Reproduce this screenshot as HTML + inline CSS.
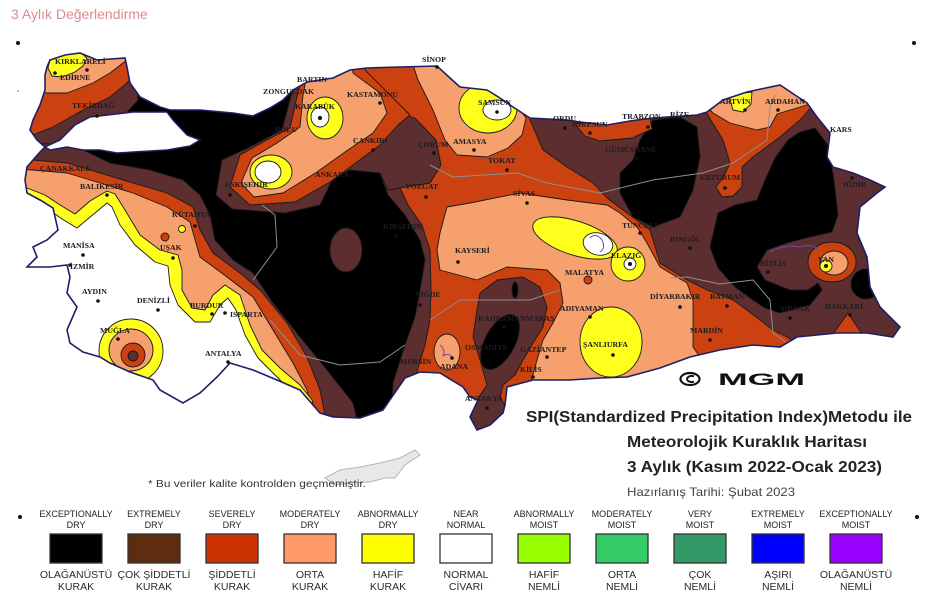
<!DOCTYPE html>
<html><head><meta charset="utf-8">
<style>
html,body{margin:0;padding:0;background:#fff;}
svg{display:block}
.l{font-family:"Liberation Serif",serif;font-weight:bold;font-size:7.8px;fill:#1c1c22;}
.lt{font-family:"Liberation Sans",sans-serif;font-size:9px;fill:#222;text-anchor:middle;}
.lb{font-family:"Liberation Sans",sans-serif;font-size:10.5px;fill:#2a2a2a;text-anchor:middle;}
</style></head>
<body>
<svg width="942" height="602" viewBox="0 0 942 602" xmlns="http://www.w3.org/2000/svg">
<defs>
<clipPath id="c"><polygon id="outl" points="47,67 50,60 65,55 80,53 97,60 125,58 127,67 130,83 140,97 160,107 170,110 200,110 233,113 253,116 270,108 283,100 293,90 307,82 333,78 350,70 367,68 400,67 437,66 450,78 460,87 487,90 500,98 513,107 530,118 567,120 580,122 607,125 630,121 653,118 697,115 707,112 723,100 747,92 780,85 795,95 807,103 817,117 830,133 827,157 833,167 853,173 870,180 885,187 877,193 860,207 857,233 867,257 870,287 880,307 900,327 893,337 867,333 837,333 797,337 780,347 753,345 720,350 690,357 660,368 627,377 600,378 570,380 533,380 507,387 505,405 503,413 490,425 477,430 470,417 478,400 470,397 463,387 440,373 420,372 405,378 383,410 360,418 333,417 320,413 300,390 277,380 253,370 230,363 217,377 200,393 183,403 160,390 153,380 130,372 110,363 100,357 83,352 70,343 67,330 77,307 67,293 70,277 67,265 50,267 27,267 37,257 33,247 47,240 58,230 53,208 40,200 27,193 25,180 27,167 33,160 40,152 45,147 37,140 30,130 33,120 40,105 45,90 45,75"/></clipPath>
</defs>

<text x="11" y="19" font-family="Liberation Sans, sans-serif" font-size="14" fill="#dc8c91">3 Aylık Değerlendirme</text>
<circle cx="18" cy="43" r="2" fill="#111"/>
<circle cx="914" cy="43" r="2" fill="#111"/>
<circle cx="18" cy="91" r="1" fill="#aaa"/>
<circle cx="20" cy="517" r="2" fill="#111"/>
<circle cx="917" cy="517" r="2" fill="#111"/>

<g clip-path="url(#c)" stroke="#1a1a1a" stroke-width="0.9" stroke-linejoin="round">
<rect x="0" y="0" width="942" height="602" fill="#5d2e30" stroke="none"/>
<polygon fill="#000" points="133,40 330,40 333,178 350,170 380,173 388,195 405,215 420,240 425,260 420,290 415,317 405,345 393,383 390,440 130,440 80,150 120,120 138,100"/>
<polygon fill="#5d2e30" points="0,140 60,145 83,150 110,163 150,170 183,180 200,195 210,215 215,240 233,260 253,273 273,303 300,337 327,370 353,403 362,440 0,440"/>
<polygon fill="#cb410f" points="0,158 33,160 67,163 100,173 133,183 167,193 193,207 200,230 213,253 240,273 260,290 287,323 307,357 320,390 330,440 0,440"/>
<polygon fill="#f5a06d" points="0,168 33,170 67,173 100,183 133,193 167,207 190,222 200,257 227,277 253,297 273,330 293,363 307,390 316,440 0,440"/>
<polygon fill="#ffff1e" points="0,185 27,188 45,195 60,205 75,214 90,201 107,191 115,194 125,210 140,235 160,250 178,255 182,270 182,290 192,308 205,310 213,295 225,285 240,295 250,325 262,350 280,368 300,385 312,400 320,440 0,440"/>
<polygon fill="#fff" points="0,198 27,198 45,207 62,219 77,228 95,213 107,203 112,207 120,225 135,245 155,262 168,266 170,285 178,305 195,322 210,322 220,305 228,298 236,310 245,335 258,358 275,375 292,392 298,440 0,440"/>
<polygon fill="#cb410f" points="20,100 20,140 53,127 83,110 110,97 127,83 136,72 136,45 40,45"/>
<polygon fill="#f5a06d" points="35,45 136,45 130,58 123,63 110,73 93,83 67,93 47,93 35,90"/>
<polygon fill="#ffff1e" points="48,68 50,60 62,55 80,52 87,58 83,66 75,72 62,77 52,76"/>
<ellipse cx="131" cy="351" rx="32" ry="32" fill="#ffff1e"/>
<ellipse cx="131" cy="350" rx="22" ry="21" fill="#f5a06d"/>
<circle cx="133" cy="355" r="12" fill="#cb410f"/>
<circle cx="133" cy="356" r="5" fill="#5d2e30"/>
<circle cx="165" cy="237" r="4" fill="#cb410f"/>
<circle cx="182" cy="229" r="3.5" fill="#ffff1e"/>
<polygon fill="#5d2e30" points="292,92 282,130 250,147 222,160 216,195 232,209 285,213 320,205 333,178 350,170 380,173 388,190 430,183 441,165 436,140 415,118 380,108 345,88 338,40 300,40"/>
<ellipse cx="346" cy="250" rx="16" ry="22" fill="#5d2e30"/>
<polygon fill="#cb410f" points="338,40 345,88 380,108 415,118 436,140 441,165 430,183 400,188 408,205 422,225 430,250 431,290 430,320 425,345 418,368 412,390 420,440 810,440 800,345 787,337 773,330 760,320 747,310 733,300 707,290 687,280 660,263 650,230 627,213 607,198 593,183 567,167 543,150 530,120 525,100 520,40"/>
<polygon fill="#cb410f" points="300,40 299,88 294,110 290,128 265,141 240,155 230,187 250,205 295,202 330,182 357,162 380,145 398,125 410,115 390,95 365,70 360,40"/>
<polygon fill="#f5a06d" points="305,40 305,85 303,95 300,127 277,143 252,158 241,183 254,197 283,193 317,172 345,152 373,133 387,113 380,93 353,73 350,40"/>
<ellipse cx="325" cy="118" rx="18" ry="21" fill="#ffff1e"/>
<ellipse cx="320" cy="117" rx="9" ry="10" fill="#fff"/>
<ellipse cx="271" cy="172" rx="21" ry="17" fill="#ffff1e"/>
<ellipse cx="268" cy="172" rx="13" ry="11" fill="#fff"/>
<polygon fill="#f5a06d" points="405,40 440,40 455,75 470,88 515,103 526,118 522,135 508,148 487,157 457,155 445,140 433,110 418,80"/>
<ellipse cx="488" cy="108" rx="29" ry="25" fill="#ffff1e"/>
<ellipse cx="497" cy="110" rx="14" ry="10" fill="#fff"/>
<polygon fill="#f5a06d" points="447,207 470,203 520,193 567,200 607,205 620,213 637,227 647,243 660,267 687,283 693,300 693,327 693,347 700,357 700,440 530,440 530,385 537,360 543,340 553,323 563,303 560,283 547,270 507,267 477,280 440,270 437,250 440,233"/>
<polygon fill="#5d2e30" points="480,293 497,280 523,277 540,287 547,307 543,327 533,343 523,360 515,375 503,385 500,398 510,412 505,440 465,440 470,410 487,385 480,360 473,337 477,310"/>
<ellipse cx="500" cy="342" rx="15" ry="30" transform="rotate(28 500 342)" fill="#000"/>
<ellipse cx="515" cy="290" rx="3" ry="8" fill="#000"/>
<ellipse cx="447" cy="352" rx="13" ry="18" fill="#f5a06d"/>
<ellipse cx="575" cy="238" rx="44" ry="17" transform="rotate(18 575 238)" fill="#ffff1e"/>
<ellipse cx="628" cy="264" rx="17" ry="17" fill="#ffff1e"/>
<ellipse cx="598" cy="244" rx="15" ry="11" transform="rotate(15 598 244)" fill="#fff"/>
<circle cx="630" cy="264" r="6" fill="#fff"/>
<ellipse cx="611" cy="342" rx="31" ry="35" fill="#ffff1e"/>
<circle cx="588" cy="280" r="4" fill="#cb410f"/>
<polygon fill="#000" points="653,120 680,117 697,127 700,157 693,190 680,217 653,227 633,217 620,193 620,173 633,160 640,140"/>
<polygon fill="#cb410f" points="575,124 600,121 650,118 652,129 632,138 600,141 585,136"/>
<polygon fill="#cb410f" points="705,110 725,98 760,88 790,86 813,105 800,120 780,137 753,157 742,167 742,187 733,196 722,197 716,187 723,178 730,163 723,140 712,122"/>
<polygon fill="#f5a06d" points="700,100 725,94 760,86 790,84 810,104 790,110 777,114 770,127 757,130 730,123 713,113"/>
<polygon fill="#ffff1e" points="729,95 752,92 751,104 743,112 733,110"/>
<polygon fill="#000" points="800,132 815,128 828,145 834,180 838,215 832,232 810,237 787,243 767,250 757,267 765,280 790,290 808,290 818,283 822,290 810,305 780,313 765,308 750,298 735,287 718,268 710,247 718,213 735,205 757,200 765,180 775,158 788,140"/>
<ellipse cx="866" cy="284" rx="15" ry="15" fill="#000"/>
<ellipse cx="832" cy="262" rx="24" ry="20" fill="#cb410f"/>
<ellipse cx="834" cy="263" rx="14" ry="12" fill="#f5a06d"/>
<circle cx="826" cy="266" r="6" fill="#ffff1e"/>
<polygon fill="#cb410f" points="833,334 848,313 862,334"/>
<g fill="none" stroke="#8e8e8e" stroke-width="1">
<polyline points="430,165 453,177 517,173 547,183 600,193 653,180 703,173 733,163 767,140 770,107 775,95"/>
<polyline points="670,278 687,277 720,284 753,280 770,300 773,333 790,345"/>
<polyline points="253,280 277,247 275,215 262,205"/>
<polyline points="270,320 300,355 340,365 380,362 405,345"/>
<polyline points="430,320 460,300 500,300 530,300 560,290"/>
</g>
<g fill="none" stroke="#6a4aa8" stroke-width="1">
<path d="M770,252 Q785,244 800,247 Q812,243 818,250"/>
<path d="M590,238 Q596,232 602,240 Q606,248 600,252"/>
<path d="M440,345 Q446,350 443,356 Q450,352 452,358"/>
</g>
</g>

<polygon fill="#fff" stroke="#1e1e66" stroke-width="1.5" points="60,140 75,125 90,117 133,112 167,112 173,120 187,135 200,140 190,146 167,150 117,153 100,150 83,150 67,147 50,150 45,147"/>
<use href="#outl" fill="none" stroke="#1e1e66" stroke-width="1.6"/>

<polygon fill="#e8e8e8" stroke="#b5b5b5" stroke-width="1" points="325,478 340,470 360,467 380,463 400,458 415,450 420,455 405,465 395,478 385,478 370,482 350,483 335,485"/>

<g fill="#111">
<circle cx="55" cy="73" r="1.8"/><circle cx="87" cy="70" r="1.8"/><circle cx="97" cy="116" r="1.8"/><circle cx="107" cy="195" r="1.8"/>
<circle cx="83" cy="255" r="1.8"/><circle cx="70" cy="265" r="1.8"/><circle cx="98" cy="301" r="1.8"/><circle cx="158" cy="310" r="1.8"/>
<circle cx="118" cy="339" r="1.8"/><circle cx="212" cy="314" r="1.8"/><circle cx="225" cy="313" r="1.8"/><circle cx="228" cy="362" r="1.8"/>
<circle cx="173" cy="258" r="1.8"/><circle cx="195" cy="226" r="1.8"/><circle cx="230" cy="195" r="1.8"/><circle cx="320" cy="118" r="2"/>
<circle cx="380" cy="103" r="1.8"/><circle cx="437" cy="67" r="1.8"/><circle cx="497" cy="112" r="1.8"/><circle cx="474" cy="150" r="1.8"/>
<circle cx="434" cy="153" r="1.8"/><circle cx="373" cy="150" r="1.8"/><circle cx="507" cy="170" r="1.8"/><circle cx="426" cy="197" r="1.8"/>
<circle cx="527" cy="203" r="1.8"/><circle cx="396" cy="236" r="1.8"/><circle cx="458" cy="262" r="1.8"/><circle cx="420" cy="305" r="1.8"/>
<circle cx="452" cy="358" r="1.8"/><circle cx="547" cy="357" r="1.8"/><circle cx="533" cy="377" r="1.8"/><circle cx="487" cy="408" r="1.8"/>
<circle cx="590" cy="317" r="1.8"/><circle cx="613" cy="355" r="1.8"/><circle cx="630" cy="264" r="2"/><circle cx="640" cy="233" r="1.8"/>
<circle cx="690" cy="248" r="1.8"/><circle cx="680" cy="307" r="1.8"/><circle cx="727" cy="306" r="1.8"/><circle cx="710" cy="340" r="1.8"/>
<circle cx="790" cy="318" r="1.8"/><circle cx="850" cy="315" r="1.8"/><circle cx="768" cy="272" r="1.8"/><circle cx="826" cy="266" r="2"/>
<circle cx="852" cy="178" r="1.8"/><circle cx="778" cy="110" r="1.8"/><circle cx="745" cy="110" r="1.8"/><circle cx="725" cy="188" r="1.8"/>
<circle cx="637" cy="158" r="1.8"/><circle cx="648" cy="127" r="1.8"/><circle cx="565" cy="128" r="1.8"/><circle cx="590" cy="133" r="1.8"/>
<circle cx="504" cy="327" r="1.8"/>
</g>

<g class="l">
<text x="55" y="64">KIRKLARELİ</text><text x="60" y="80">EDİRNE</text><text x="72" y="108">TEKİRDAĞ</text>
<text x="40" y="171">ÇANAKKALE</text><text x="80" y="189">BALIKESİR</text><text x="63" y="248">MANİSA</text>
<text x="70" y="269">İZMİR</text><text x="82" y="294">AYDIN</text><text x="137" y="303">DENİZLİ</text>
<text x="100" y="333">MUĞLA</text><text x="190" y="308">BURDUR</text><text x="230" y="317">ISPARTA</text>
<text x="205" y="356">ANTALYA</text><text x="160" y="250">UŞAK</text><text x="172" y="217">KÜTAHYA</text>
<text x="225" y="187">ESKİŞEHİR</text><text x="275" y="132">BOLU</text><text x="297" y="82">BARTIN</text>
<text x="263" y="94">ZONGULDAK</text><text x="295" y="109">KARABÜK</text><text x="347" y="97">KASTAMONU</text>
<text x="422" y="62">SİNOP</text><text x="478" y="105">SAMSUN</text><text x="453" y="144">AMASYA</text>
<text x="418" y="147">ÇORUM</text><text x="353" y="143">ÇANKIRI</text><text x="488" y="163">TOKAT</text>
<text x="405" y="189">YOZGAT</text><text x="513" y="196">SİVAS</text><text x="315" y="177">ANKARA</text>
<text x="383" y="229">KIRŞEHİR</text><text x="455" y="253">KAYSERİ</text><text x="415" y="297">NİĞDE</text>
<text x="400" y="364">MERSİN</text><text x="440" y="369">ADANA</text><text x="465" y="350">OSMANİYE</text>
<text x="478" y="321">KAHRAMANMARAŞ</text><text x="520" y="352">GAZİANTEP</text><text x="520" y="372">KİLİS</text>
<text x="465" y="401">ANTAKYA</text><text x="560" y="311">ADIYAMAN</text><text x="583" y="347">ŞANLIURFA</text>
<text x="565" y="275">MALATYA</text><text x="611" y="258">ELAZIĞ</text><text x="622" y="228">TUNCELİ</text>
<text x="670" y="242">BİNGÖL</text><text x="650" y="299">DİYARBAKIR</text><text x="710" y="299">BATMAN</text>
<text x="690" y="333">MARDİN</text><text x="780" y="311">ŞIRNAK</text><text x="825" y="309">HAKKARİ</text>
<text x="760" y="266">BİTLİS</text><text x="818" y="262">VAN</text><text x="843" y="187">IĞDIR</text>
<text x="830" y="132">KARS</text><text x="765" y="104">ARDAHAN</text><text x="720" y="104">ARTVİN</text>
<text x="700" y="180">ERZURUM</text><text x="605" y="152">GÜMÜŞHANE</text><text x="622" y="119">TRABZON</text>
<text x="670" y="117">RİZE</text><text x="553" y="121">ORDU</text><text x="572" y="127">GİRESUN</text>
</g>

<ellipse cx="690" cy="379" rx="9.5" ry="6" fill="none" stroke="#111" stroke-width="2.2"/>
<path d="M694,376.5 A4.5,3 0 1 0 694,381.5" fill="none" stroke="#111" stroke-width="2"/>
<text x="718" y="385" font-family="Liberation Sans, sans-serif" font-weight="bold" font-size="16.5" fill="#111" textLength="87" lengthAdjust="spacingAndGlyphs">MGM</text>

<g font-family="Liberation Sans, sans-serif" font-weight="bold" fill="#222">
<text x="526" y="422" font-size="16" textLength="386" lengthAdjust="spacingAndGlyphs">SPI(Standardized Precipitation Index)Metodu ile</text>
<text x="627" y="447" font-size="16" textLength="240" lengthAdjust="spacingAndGlyphs">Meteorolojik Kuraklık Haritası</text>
<text x="627" y="472" font-size="16" textLength="255" lengthAdjust="spacingAndGlyphs">3 Aylık (Kasım 2022-Ocak 2023)</text>
</g>
<text x="627" y="496" font-family="Liberation Sans, sans-serif" font-size="12" fill="#444" textLength="168" lengthAdjust="spacingAndGlyphs">Hazırlanış Tarihi: Şubat 2023</text>
<text x="148" y="487" font-family="Liberation Sans, sans-serif" font-size="10" fill="#333" textLength="218" lengthAdjust="spacingAndGlyphs">* Bu veriler kalite kontrolden geçmemiştir.</text>

<g stroke="#333" stroke-width="1.3">
<rect x="50" y="534" width="52" height="29" fill="#000"/>
<rect x="128" y="534" width="52" height="29" fill="#5e2c0e"/>
<rect x="206" y="534" width="52" height="29" fill="#cc3300"/>
<rect x="284" y="534" width="52" height="29" fill="#ff9966"/>
<rect x="362" y="534" width="52" height="29" fill="#ffff00"/>
<rect x="440" y="534" width="52" height="29" fill="#ffffff"/>
<rect x="518" y="534" width="52" height="29" fill="#99ff00"/>
<rect x="596" y="534" width="52" height="29" fill="#33cc66"/>
<rect x="674" y="534" width="52" height="29" fill="#339966"/>
<rect x="752" y="534" width="52" height="29" fill="#0000ff"/>
<rect x="830" y="534" width="52" height="29" fill="#9900ff"/>
</g>
<g class="lt">
<text x="76" y="517">EXCEPTIONALLY</text><text x="76" y="528">DRY</text>
<text x="154" y="517">EXTREMELY</text><text x="154" y="528">DRY</text>
<text x="232" y="517">SEVERELY</text><text x="232" y="528">DRY</text>
<text x="310" y="517">MODERATELY</text><text x="310" y="528">DRY</text>
<text x="388" y="517">ABNORMALLY</text><text x="388" y="528">DRY</text>
<text x="466" y="517">NEAR</text><text x="466" y="528">NORMAL</text>
<text x="544" y="517">ABNORMALLY</text><text x="544" y="528">MOIST</text>
<text x="622" y="517">MODERATELY</text><text x="622" y="528">MOIST</text>
<text x="700" y="517">VERY</text><text x="700" y="528">MOIST</text>
<text x="778" y="517">EXTREMELY</text><text x="778" y="528">MOIST</text>
<text x="856" y="517">EXCEPTIONALLY</text><text x="856" y="528">MOIST</text>
</g>
<g class="lb">
<text x="76" y="578">OLAĞANÜSTÜ</text><text x="76" y="590">KURAK</text>
<text x="154" y="578">ÇOK ŞİDDETLİ</text><text x="154" y="590">KURAK</text>
<text x="232" y="578">ŞİDDETLİ</text><text x="232" y="590">KURAK</text>
<text x="310" y="578">ORTA</text><text x="310" y="590">KURAK</text>
<text x="388" y="578">HAFİF</text><text x="388" y="590">KURAK</text>
<text x="466" y="578">NORMAL</text><text x="466" y="590">CİVARI</text>
<text x="544" y="578">HAFİF</text><text x="544" y="590">NEMLİ</text>
<text x="622" y="578">ORTA</text><text x="622" y="590">NEMLİ</text>
<text x="700" y="578">ÇOK</text><text x="700" y="590">NEMLİ</text>
<text x="778" y="578">AŞIRI</text><text x="778" y="590">NEMLİ</text>
<text x="856" y="578">OLAĞANÜSTÜ</text><text x="856" y="590">NEMLİ</text>
</g>
</svg>
</body></html>
